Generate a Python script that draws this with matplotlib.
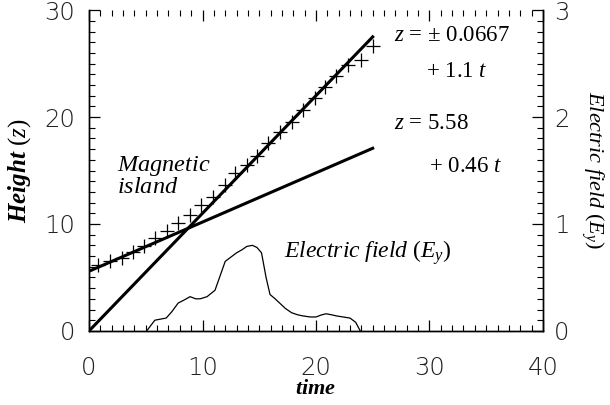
import matplotlib
matplotlib.use("Agg")
import matplotlib.pyplot as plt
import numpy as np
from matplotlib.ticker import MultipleLocator

plt.rcParams['mathtext.fontset'] = 'custom'
plt.rcParams['mathtext.rm'] = 'Liberation Serif'
plt.rcParams['mathtext.it'] = 'Liberation Serif:italic'
plt.rcParams['mathtext.bf'] = 'Liberation Serif:bold:italic'

# Island height measurements (crosses)
t_obs = [0.8, 1.85, 2.9, 3.9, 4.85, 5.8, 6.85, 7.85, 8.9, 9.9, 10.9, 12.0, 12.9, 13.9,
         14.8, 15.8, 16.8, 17.9, 18.9, 19.9, 20.8, 21.8, 22.8, 24.0, 25.0]
z_obs = [6.2, 6.5, 6.8, 7.4, 7.9, 8.7, 9.3, 10.1, 10.8, 11.8, 12.5, 13.6, 14.8, 15.5,
         16.4, 17.6, 18.6, 19.5, 20.7, 21.8, 22.8, 23.8, 24.9, 25.3, 26.6]

# Linear fits
fit_t = [0, 25]
fit1_a, fit1_b = 0.0667, 1.1
fit2_a, fit2_b = 5.58, 0.46

# Electric field curve
t_e = [5.08, 5.8, 6.8, 7.3, 7.85, 8.4, 8.9, 9.4, 9.8, 10.4, 11.1, 11.5, 12.0, 12.5, 13.0,
       13.5, 13.9, 14.4, 14.8, 15.2, 15.6, 15.95, 16.4, 16.8, 17.3, 17.85, 18.4, 18.85,
       19.5, 20.0, 20.5, 20.9, 21.4, 21.8, 22.4, 23.0, 23.5, 23.9]
e_y = [0.0, 0.10, 0.12, 0.18, 0.26, 0.29, 0.32, 0.30, 0.30, 0.32, 0.38, 0.50, 0.65, 0.69, 0.73,
       0.76, 0.79, 0.80, 0.78, 0.73, 0.50, 0.34, 0.30, 0.26, 0.21, 0.17, 0.15, 0.14,
       0.13, 0.13, 0.15, 0.16, 0.15, 0.14, 0.13, 0.12, 0.08, 0.0]

fig = plt.figure(figsize=(6.1, 4.05), dpi=100)
ax = fig.add_axes([0.146, 0.183, 0.744, 0.792])
ax2 = ax.twinx()

ax.plot(t_obs, z_obs, linestyle='none', marker='+', markersize=10, mew=0.9, color='black')
ft = np.array(fit_t, dtype=float)
ax.plot(ft, fit1_a * 0 + fit1_b * ft, color='black', lw=2.2)
ax.plot(ft, fit2_a + fit2_b * ft, color='black', lw=2.2)
ax2.plot(t_e, e_y, color='black', lw=0.9)

ax.set_xlim(0, 40)
ax.set_ylim(0, 30)
ax2.set_ylim(0, 3)

ax.xaxis.set_major_locator(MultipleLocator(10))
ax.xaxis.set_minor_locator(MultipleLocator(1))
ax.yaxis.set_major_locator(MultipleLocator(10))
ax.yaxis.set_minor_locator(MultipleLocator(1))
ax2.yaxis.set_major_locator(MultipleLocator(1))
ax2.yaxis.set_minor_locator(MultipleLocator(0.1))

ax.tick_params(axis='both', which='major', direction='in', length=8, width=0.9,
               labelsize=17.5, top=True, right=False)
ax.tick_params(axis='both', which='minor', direction='in', length=4, width=0.8,
               top=True, right=False)
ax.tick_params(axis='x', pad=18)
ax.tick_params(axis='y', pad=10)
ax2.tick_params(axis='y', which='major', direction='in', length=8, width=0.9, labelsize=17.5, pad=8)
ax2.tick_params(axis='y', which='minor', direction='in', length=4, width=0.8)
for lab in ax.get_xticklabels() + ax.get_yticklabels() + ax2.get_yticklabels():
    lab.set_fontfamily('DejaVu Sans')
    lab.set_fontweight('light')
    lab.set_color('#222222')

for a in (ax, ax2):
    a.spines['top'].set_visible(False)
    for s in ('left', 'right', 'bottom'):
        a.spines[s].set_linewidth(1.0)

ax.set_ylabel(r'$\mathbf{Height}$ ($\mathit{z}$)', fontsize=18, labelpad=8,
              family='Liberation Serif')
ax.set_xlabel(r'$\mathbf{time}$', fontsize=16, labelpad=0, family='Liberation Serif')
ax2.set_ylabel(r'$\mathit{Electric\ field}$ ($\mathit{E_y}$)', fontsize=16, rotation=270,
               labelpad=26, family='Liberation Serif')

ax.text(2.5, 14.5, r'$\mathit{Magnetic}$' + '\n' + r'$\mathit{island}$', fontsize=17.5,
        ha='left', va='center', linespacing=0.9, family='Liberation Serif')
ax.text(26.9, 27.6, r'$\mathit{z}$ = ± 0.0667', fontsize=16.5, ha='left', va='center',
        family='Liberation Serif')
ax.text(29.7, 24.3, r'+ 1.1 $\mathit{t}$', fontsize=16.5, ha='left', va='center',
        family='Liberation Serif')
ax.text(26.9, 19.4, r'$\mathit{z}$ = 5.58', fontsize=16.5, ha='left', va='center',
        family='Liberation Serif')
ax.text(30.0, 15.4, r'+ 0.46 $\mathit{t}$', fontsize=16.5, ha='left', va='center',
        family='Liberation Serif')
ax.text(17.2, 7.3, r'$\mathit{Electric\ field}$ ($\mathit{E_y}$)', fontsize=17, ha='left',
        va='center', family='Liberation Serif')

fig.savefig('out.png', dpi=100)
